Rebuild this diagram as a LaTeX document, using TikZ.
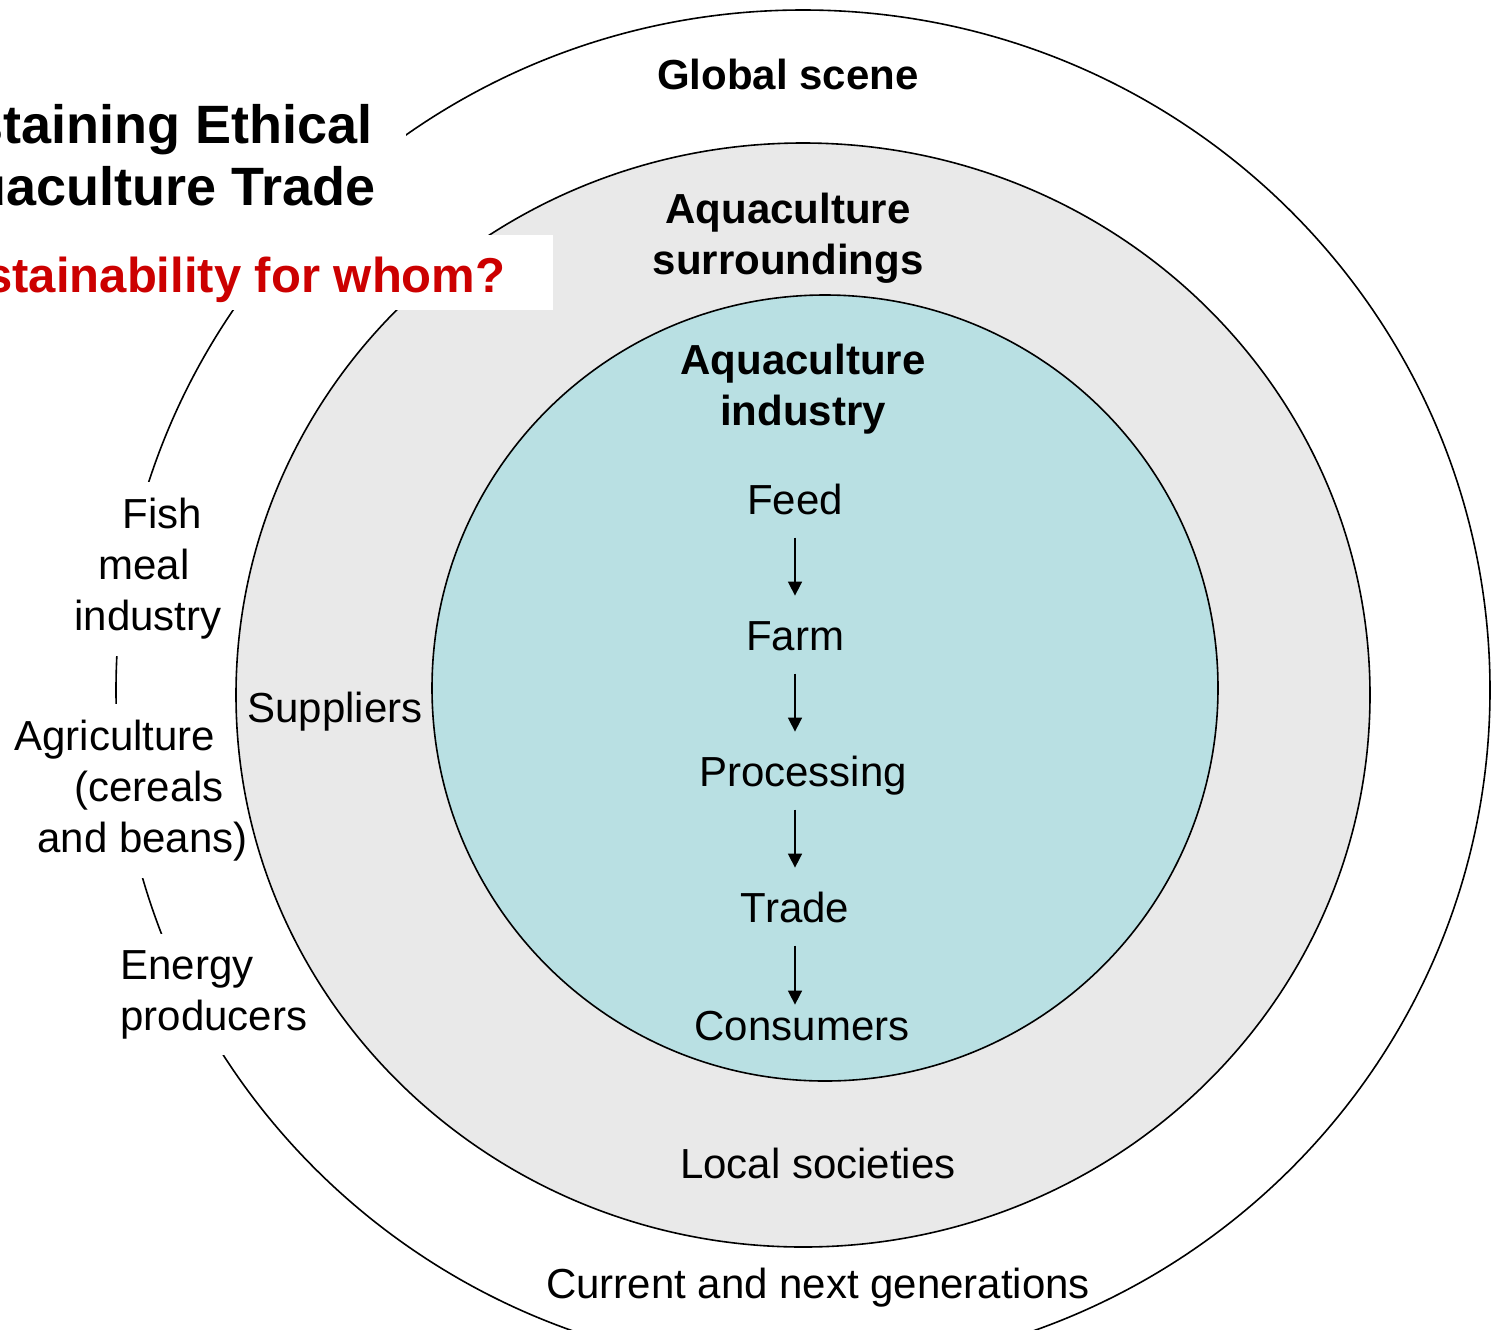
\documentclass[tikz,border=0pt]{standalone}
\usepackage{fontspec}
\setmainfont{Liberation Sans}
\usepackage{tikz}
\usetikzlibrary{arrows.meta}
\usepackage{color}
\definecolor{surroundgray}{RGB}{233, 233, 233}
\definecolor{industryblue}{RGB}{185, 224, 227}
\definecolor{questionred}{RGB}{204, 0, 0}

\begin{document}
\begin{tikzpicture}[x=0.5pt, y=-0.5pt,
    ring/.style={draw=black, line width=0.8pt},
    label/.style={font=\fontsize{21}{25.5}\selectfont, inner sep=0pt},
    headlabel/.style={label, font=\fontsize{21}{25.5}\selectfont\bfseries, align=center},
    sidelabel/.style={label, align=left, fill=white, inner xsep=4pt, inner ysep=8pt},
    chainstep/.style={label, anchor=base, text height=15pt, text depth=4.6pt},
    flow/.style={-{Triangle[length=7pt, width=7pt]}, line width=0.8pt, shorten <=7pt, shorten >=12pt}]
    \useasboundingbox (0,0) rectangle (1494,1329);
    % Global scene
    \draw[ring]                                            (803, 690) ellipse [x radius=687, y radius=680];
    % Suppliers outside the surroundings
    \node[sidelabel, anchor=north west] (fishmeal) at ( 66, 482) {\hspace*{24pt}Fish\\\hspace*{12pt}meal\\industry};
    \node[sidelabel, anchor=north west] (agri)     at (  6, 704) {Agriculture\\\hspace*{30pt}(cereals\\\hspace*{11.5pt}and beans)};
    \node[sidelabel, anchor=north west] (energy)   at (112, 934) {Energy\\producers};
    % Aquaculture surroundings
    \draw[ring, fill=surroundgray]                         (803, 695) ellipse [x radius=567, y radius=552];
    % Aquaculture industry
    \draw[ring, fill=industryblue]                         (825, 688) circle (393);
    % Labels of the rings
    \node[headlabel] (global)   at (788,  74) {Global scene};
    \node[headlabel] (surround) at (788, 238) {Aquaculture\\surroundings};
    \node[headlabel] (industry) at (803, 389) {Aquaculture\\industry};
    \node[label]     (suppliers)   at (335, 712) {Suppliers};
    \node[label]     (local)       at (818,1163) {Local societies};
    \node[label]     (generations) at (818,1288) {Current and next generations};
    % Value chain
    \node[chainstep] (feed)       at (795, 514) {Feed};
    \node[chainstep] (farm)       at (795, 650) {Farm};
    \node[chainstep] (processing) at (803, 786) {Processing};
    \node[chainstep] (trade)      at (795, 922) {Trade};
    \node[chainstep] (consumers)  at (802,1040) {Consumers};
    \draw[flow] (feed.south)       -- (farm.north);
    \draw[flow] (farm.south)       -- (farm.south |- processing.north);
    \draw[flow] (farm.south |- processing.south) -- (trade.north);
    \draw[flow, shorten >=2.5pt] (trade.south) -- (trade.south |- consumers.north);
    % Title block
    \node[fill=white, anchor=north west, align=left, inner xsep=15pt, inner ysep=15pt,
          font=\fontsize{27}{31}\selectfont\bfseries] (title) at (-57, 74) {staining Ethical\\uaculture Trade};
    \node[fill=white, anchor=west, inner xsep=0pt, inner ysep=0pt, minimum height=37.5pt,
          text height=24.5pt, text depth=4.9pt, text=questionred,
          font=\fontsize{24.5}{29}\selectfont\bfseries] (question) at (-15, 272.5)
          {stainability for whom?\hspace*{24pt}};
\end{tikzpicture}
\end{document}
